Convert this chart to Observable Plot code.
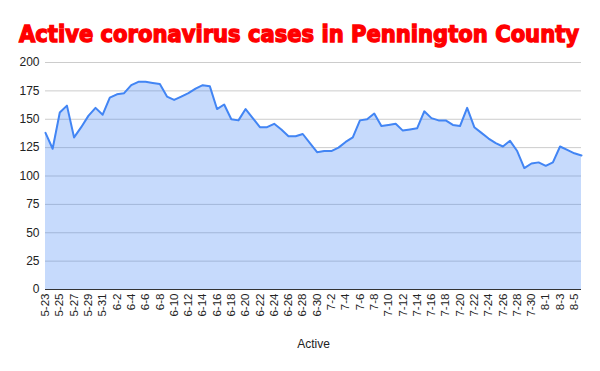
<!DOCTYPE html>
<html>
<head>
<meta charset="utf-8">
<script src="https://cdn.jsdelivr.net/npm/d3@7"></script>
<script src="https://cdn.jsdelivr.net/npm/@observablehq/plot@0.6"></script>
<style>
  html, body { margin: 0; padding: 0; background: #fff; }
  #wrap { width: 600px; height: 371px; position: relative; overflow: hidden; }
  #title { position: absolute; left: 19px; top: 19px; height: 30px; white-space: nowrap;
    font-family: "DejaVu Sans", sans-serif; font-weight: bold; font-size: 23px;
    color: #ff0000; -webkit-text-stroke: 1.4px #ff0000; transform-origin: 0 0; line-height: 30px; }
  #chart { position: absolute; left: 0; top: 50px; }
</style>
</head>
<body>
<div id="wrap">
  <div id="title"><span id="tspan">Active coronavirus cases in Pennington County</span></div>
  <div id="chart"></div>
</div>
<script>
const title = "Active coronavirus cases in Pennington County";
const xTitle = "Active";
const startDate = "2020-05-23";
const endDate = "2020-08-06";
const active = [138,124,156,162,134,143,153,160,154,169,
                172,173,180,183,183,182,181,170,167,170,
                173,177,180,179,159,163,150,149,159,151,
                143,143,146,141,135,135,137,129,121,122,
                122,125,130,134,149,150,155,144,145,146,
                140,141,142,157,151,149,149,145,144,160,
                143,138,133,129,126,131,122,107,111,112,
                109,112,126,123,120,118];
const yTicks = [0,25,50,75,100,125,150,175,200];

const start = new Date(startDate + "T00:00:00Z");
const end = new Date(endDate + "T00:00:00Z");
const days = d3.utcDays(start, d3.utcDay.offset(end, 1));
const data = days.map((d, i) => ({date: d, value: active[i]}));
const xTicks = days.filter((d, i) => i % 2 === 0 && d < end);

const fmt = d3.utcFormat("%-m-%-d");

const chart = Plot.plot({
  width: 600,
  height: 321,
  marginLeft: 45,
  marginRight: 19,
  marginTop: 12,
  marginBottom: 82,
  style: {fontFamily: "Liberation Sans, Arial, sans-serif", fontSize: "12px", color: "#222", background: "#fff"},
  x: {type: "utc", domain: [start, end]},
  y: {domain: [0, 200]},
  marks: [
    Plot.gridY(yTicks, {stroke: "#cccccc", strokeOpacity: 1, strokeWidth: 1}),
    Plot.areaY(data, {x: "date", y: "value", fill: "#4285f4", fillOpacity: 0.3}),
    Plot.lineY(data, {x: "date", y: "value", stroke: "#4285f4", strokeWidth: 2, strokeLinejoin: "round"}),
    Plot.ruleY([0], {stroke: "#333", strokeWidth: 1}),
    Plot.axisY(yTicks, {tickSize: 0, tickPadding: 6, label: null, fontSize: 12, fill: "#222"}),
    Plot.axisX(xTicks, {tickSize: 0, tickPadding: 4, tickRotate: -90, tickFormat: fmt, label: null, fontSize: 11.5, fill: "#222"}),
    Plot.text([xTitle], {frameAnchor: "bottom", dy: 58, fontSize: 12, fill: "#222"})
  ]
});
document.getElementById("chart").appendChild(chart);

const span = document.getElementById("tspan");
const w = span.getBoundingClientRect().width;
document.getElementById("title").style.transform = `scaleX(${560 / w})`;
</script>
</body>
</html>
